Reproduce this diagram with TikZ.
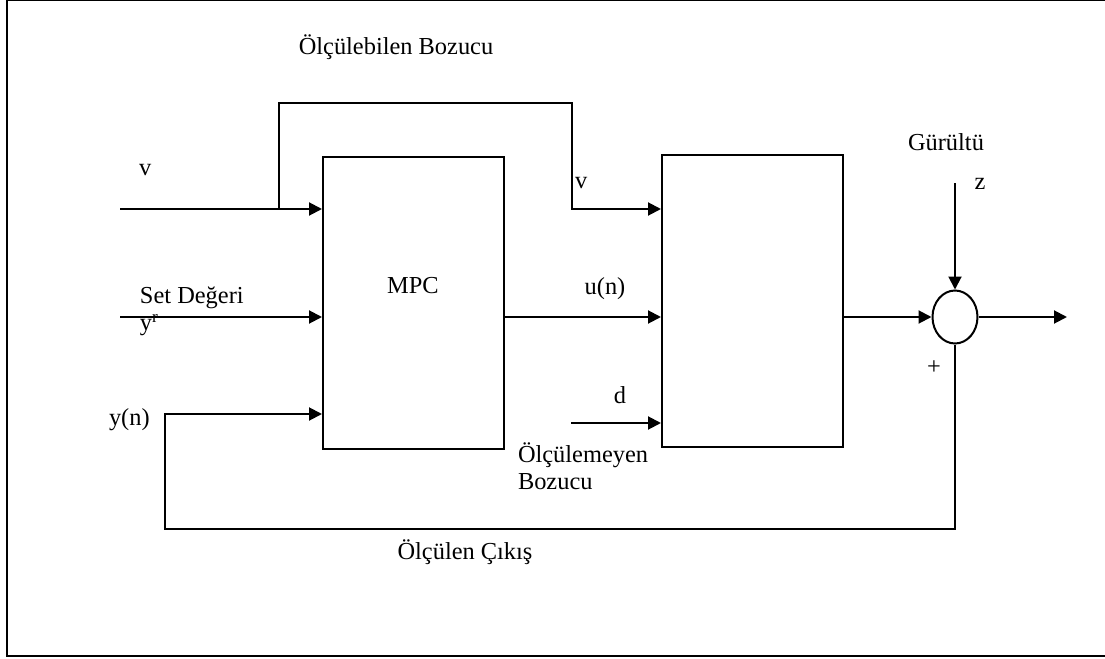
\documentclass[tikz,border=0pt]{standalone}
\usepackage{fontspec}
\setmainfont{Liberation Serif}
\usetikzlibrary{arrows.meta,shapes.geometric}
\begin{document}
\begin{tikzpicture}[x=0.5pt,y=-0.5pt,
  line width=1pt,
  block/.style={draw,rectangle,inner sep=0pt,minimum width=90.5pt,minimum height=146pt},
  junction/.style={draw,ellipse,inner sep=0pt,minimum width=22.5pt,minimum height=26.5pt},
  lbl/.style={inner sep=0pt,font=\fontsize{12.2}{14}\selectfont},
  arr/.style={-{Triangle[length=6.5pt,width=6.5pt]}}]
\useasboundingbox (0,0) rectangle (1105,659);

% outer frame
\draw (1106,0) -- (6.5,0) -- (6.5,655.5) -- (1106,655.5);

% blocks
\node[block] (mpc) at (413.5,303) {};
\node[lbl] (mpctext) at (413,286) {MPC};
\node[block] (plant) at (752.5,301) {};
\node[junction] (sum) at (955,317) {};

% free ends and bends
\coordinate (vin) at (120,209);
\coordinate (br) at (279,209);
\coordinate (brtop) at (279,103);
\coordinate (vdown) at (572,103);
\coordinate (vright) at (572,209);
\coordinate (rin) at (120,317);
\coordinate (din) at (571,423);
\coordinate (zin) at (955,183);
\coordinate (out) at (1067,317);
\coordinate (fbt) at (165,414);
\coordinate (fbl) at (165,529);
\coordinate (fbr) at (955,529);

% connectors
\draw[arr] (vin) -- (mpc.west |- vin);
\draw[arr] (br) -- (brtop) -- (vdown) -- (vright) -- (plant.west |- vright);
\draw[arr] (rin) -- (mpc.west |- rin);
\draw[arr] (mpc.east |- rin) -- (plant.west |- rin);
\draw[arr] (din) -- (plant.west |- din);
\draw[arr] (plant.east |- sum) -- (sum.west);
\draw[arr] (zin) -- (sum.north);
\draw[arr] (sum.east) -- (out);
\draw[arr] (sum.south) -- (fbr) -- (fbl) -- (fbt) -- (mpc.west |- fbt);

% labels
\node[lbl] (l1) at (396,47) {Ölçülebilen Bozucu};
\node[lbl,anchor=west] (l2) at (138,170) {v};
\node[lbl,anchor=west] (l3) at (139,298) {Set Değeri};
\node[lbl,anchor=west] (l4) at (139,325) {y\textsuperscript{r}};
\node[lbl,anchor=west] (l5) at (108,420) {y(n)};
\node[lbl,anchor=west] (l6) at (574,183) {v};
\node[lbl] (l7) at (605,289) {u(n)};
\node[lbl] (l8) at (620,395) {d};
\node[lbl,anchor=west] (l9) at (517,455) {Ölçülemeyen};
\node[lbl,anchor=west] (l10) at (517,482) {Bozucu};
\node[lbl] (l11) at (946,142) {Gürültü};
\node[lbl] (l12) at (980,184) {z};
\node[lbl] (l13) at (934,368) {+};
\node[lbl] (l14) at (465,552) {Ölçülen Çıkış};
\end{tikzpicture}
\end{document}
